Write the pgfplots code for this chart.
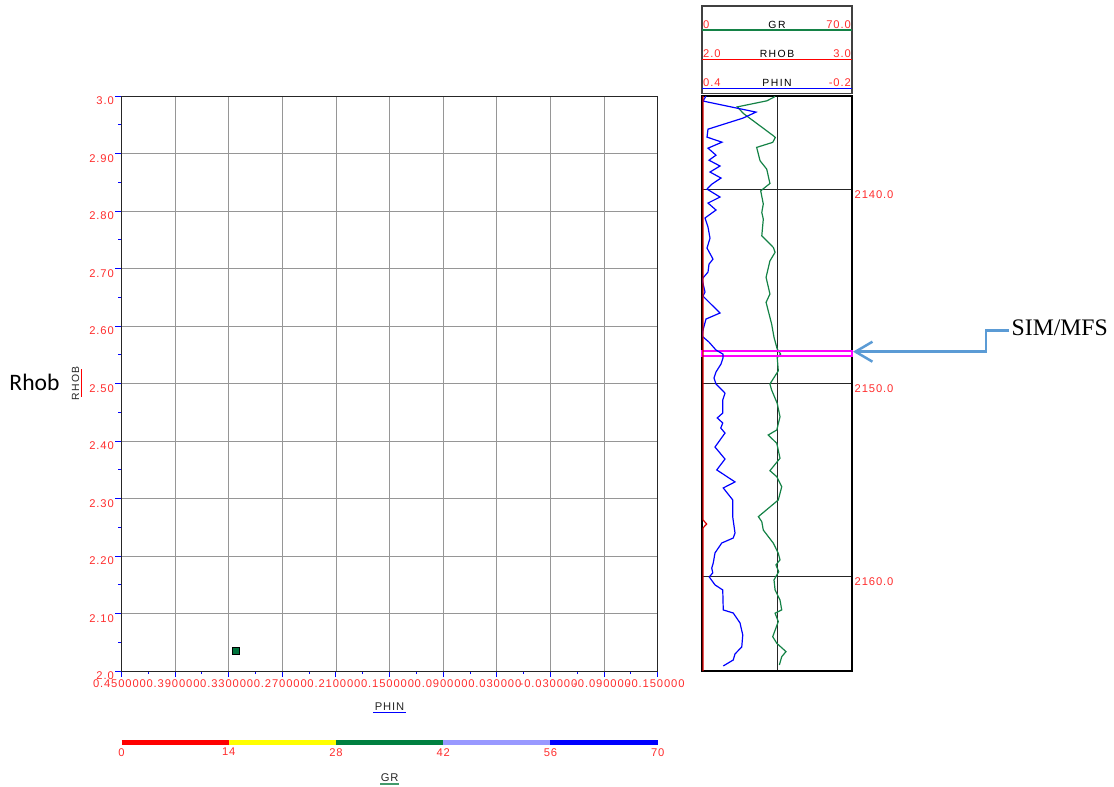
\documentclass[border=0pt]{standalone}
\usepackage{pgfplots}
\pgfplotsset{compat=1.18}
\usepackage{pgfplotstable}
\usetikzlibrary{arrows.meta}
\usepackage{fontspec}
\setmainfont{Liberation Sans}
\newfontfamily\lbl[LetterSpace=8]{Liberation Sans}
\newfontfamily\hdr[LetterSpace=14]{Liberation Sans}
\newfontfamily\tms{Liberation Serif}
\newfontfamily\carlitofont{Carlito}
\newcommand\lblfont{\lbl\fontsize{11.2bp}{13bp}\selectfont}
\newcommand\hdrfont{\hdr\fontsize{10.4bp}{12bp}\selectfont}
\definecolor{labelred}{RGB}{255,45,45}
\definecolor{gridgray}{RGB}{150,150,150}
\definecolor{grgreen}{RGB}{20,130,70}
\definecolor{ptgreen}{RGB}{0,115,60}
\definecolor{cbred}{RGB}{255,0,0}
\definecolor{cbyellow}{RGB}{255,255,0}
\definecolor{cbgreen}{RGB}{0,128,64}
\definecolor{cblav}{RGB}{153,153,255}
\definecolor{cbblue}{RGB}{0,0,255}
\definecolor{arrowblue}{RGB}{91,155,213}
\definecolor{mag}{RGB}{255,0,255}

\pgfplotstableread{
depth gr
2135.20 34.0
2135.26 33.6
2135.45 30.2
2135.76 16.5
2136.10 19.3
2136.74 27.1
2137.25 33.3
2137.34 34.2
2137.59 33.0
2137.85 25.5
2138.54 27.1
2138.97 30.2
2139.71 31.7
2140.09 27.4
2140.77 28.6
2141.20 27.9
2141.55 28.6
2142.41 27.9
2143.01 33.3
2143.26 34.1
2143.70 31.7
2144.55 29.9
2145.41 31.7
2145.84 29.9
2146.96 32.5
2147.64 33.6
2148.25 35.1
2148.51 36.7
2148.68 35.1
2149.37 35.6
2150.05 31.7
2150.36 32.5
2151.05 35.1
2151.74 36.4
2152.42 34.9
2152.68 30.9
2153.11 34.9
2153.88 36.4
2154.52 31.7
2154.83 34.9
2155.35 37.2
2156.03 35.6
2156.89 26.3
2157.15 27.9
2157.58 28.6
2158.26 33.3
2158.78 35.6
2159.12 36.4
2159.38 34.5
2159.73 35.8
2160.15 33.6
2160.67 34.1
2161.19 36.4
2161.70 37.2
2161.87 34.1
2162.30 35.6
2163.08 33.0
2163.42 34.9
2163.85 39.2
2164.11 37.2
2164.54 36.1
}\grdata

\pgfplotstableread{
depth phin
2135.20 0.384
2135.46 0.396
2136.03 0.184
2136.34 0.236
2136.91 0.376
2137.32 0.380
2137.58 0.320
2137.89 0.376
2138.25 0.344
2138.51 0.372
2138.81 0.328
2139.12 0.368
2139.43 0.324
2139.74 0.360
2140.00 0.380
2140.41 0.328
2140.72 0.376
2141.08 0.344
2141.49 0.388
2141.96 0.376
2142.53 0.368
2143.04 0.380
2143.61 0.356
2143.87 0.372
2144.28 0.376
2144.64 0.400
2145.31 0.388
2145.52 0.396
2145.88 0.368
2146.39 0.328
2146.70 0.384
2147.27 0.396
2147.58 0.400
2147.89 0.372
2148.30 0.344
2148.51 0.316
2148.71 0.316
2149.02 0.324
2149.43 0.344
2149.74 0.352
2150.05 0.344
2150.26 0.328
2150.52 0.308
2150.88 0.317
2151.55 0.317
2151.80 0.339
2152.06 0.317
2152.32 0.325
2152.58 0.308
2153.30 0.348
2153.92 0.308
2154.48 0.341
2155.10 0.268
2155.41 0.315
2156.03 0.277
2156.91 0.277
2157.73 0.268
2157.99 0.275
2158.25 0.321
2158.76 0.348
2159.28 0.355
2159.54 0.361
2159.79 0.357
2160.00 0.371
2160.41 0.348
2160.67 0.317
2161.70 0.315
2161.86 0.275
2162.37 0.248
2162.99 0.237
2163.61 0.241
2163.97 0.268
2164.28 0.275
2164.59 0.315
}\phindata

\pgfplotstableread{
depth rhob
2135.20 2.007
2157.06 2.007
2157.27 2.031
2157.47 2.007
2164.85 2.007
}\rhobdata

\begin{document}
\begin{tikzpicture}
\useasboundingbox (0,0) rectangle (1114bp,-787bp);

% ---------------- crossplot ----------------
\begin{axis}[
  at={(121.5bp,-671bp)}, anchor=south west, scale only axis,
  width=536.2bp, height=575bp,
  xmin=-0.15, xmax=0.45, x dir=reverse,
  ymin=2, ymax=3,
  xtick={0.45,0.39,0.33,0.27,0.21,0.15,0.09,0.03,-0.03,-0.09,-0.15},
  xticklabels={0.450000,0.390000,0.330000,0.270000,0.210000,0.150000,0.090000,0.030000,-0.030000,-0.090000,-0.150000},
  minor xtick={0.42,0.36,0.30,0.24,0.18,0.12,0.06,0,-0.06,-0.12},
  ytick={2,2.1,2.2,2.3,2.4,2.5,2.6,2.7,2.8,2.9,3},
  yticklabels={2.0,2.10,2.20,2.30,2.40,2.50,2.60,2.70,2.80,2.90,3.0},
  minor ytick={2.05,2.15,2.25,2.35,2.45,2.55,2.65,2.75,2.85,2.95},
  xtick pos=bottom, ytick pos=left,
  tick align=outside,
  major tick length=6bp, minor tick length=3bp,
  tick style={draw=blue, line width=1bp},
  xmajorgrids, ymajorgrids,
  major grid style={draw=gridgray, line width=0.9bp},
  axis line style={draw=black!85, line width=1bp},
  axis on top,
  tick label style={font=\lblfont, text=labelred},
  xticklabel style={inner sep=0pt, yshift=-2.5bp, xshift=-2bp},
  yticklabel style={anchor=north east, inner sep=0pt, xshift=-1.5bp, yshift=-0.8bp},
]
\addplot[only marks, mark=square*, mark size=3.7bp, mark options={fill=ptgreen, draw=black, line width=0.8bp}]
  coordinates {(0.3219,2.0348)};
\end{axis}

% ---------------- colour bar ----------------
\begin{axis}[
  at={(121.5bp,-745bp)}, anchor=south west, scale only axis,
  width=536.2bp, height=5bp,
  xmin=0, xmax=70, ymin=0, ymax=1,
  hide y axis, axis line style={draw=none},
  xtick={0,14,28,42,56,70}, xticklabels={0,14,28,42,56,70},
  xtick pos=bottom, major tick length=0pt,
  tick label style={font=\lblfont, text=labelred},
  xticklabel style={inner sep=0pt, yshift=-3bp},
  clip=false,
]
\addplot[cbred, line width=5bp] coordinates {(0,0.5) (14,0.5)};
\addplot[cbyellow, line width=5bp] coordinates {(14,0.5) (28,0.5)};
\addplot[cbgreen, line width=5bp] coordinates {(28,0.5) (42,0.5)};
\addplot[cblav, line width=5bp] coordinates {(42,0.5) (56,0.5)};
\addplot[cbblue, line width=5bp] coordinates {(56,0.5) (70,0.5)};
\end{axis}

% ---------------- log track: GR ----------------
\begin{axis}[
  at={(702bp,-671bp)}, anchor=south west, scale only axis,
  width=150bp, height=575bp,
  xmin=0, xmax=70, ymin=2135.2, ymax=2164.85, y dir=reverse,
  xtick={35}, xticklabels={},
  ytick={2140,2150,2160}, yticklabels={2140.0,2150.0,2160.0},
  xmajorgrids, ymajorgrids,
  major grid style={draw=black!85, line width=1bp},
  major tick length=0pt,
  ytick pos=right, yticklabel pos=right,
  yticklabel style={anchor=north west, inner sep=0pt, xshift=2.5bp, yshift=-1bp, font=\lblfont, text=labelred},
  axis line style={draw=black, line width=1.4bp},
  clip mode=individual,
]
\addplot[grgreen, line width=1.2bp] table[x=gr, y=depth] {\grdata};
\draw[mag, line width=1.3bp] (axis cs:0,2148.35) rectangle (axis cs:70,2148.61);
\end{axis}

% ---------------- log track: PHIN ----------------
\begin{axis}[
  at={(702bp,-671bp)}, anchor=south west, scale only axis,
  width=150bp, height=575bp,
  xmin=-0.2, xmax=0.4, x dir=reverse,
  ymin=2135.2, ymax=2164.85, y dir=reverse,
  hide axis,
]
\addplot[blue, line width=1.2bp] table[x=phin, y=depth] {\phindata};
\end{axis}

% ---------------- log track: RHOB ----------------
\begin{axis}[
  at={(702bp,-671bp)}, anchor=south west, scale only axis,
  width=150bp, height=575bp,
  xmin=2, xmax=3,
  ymin=2135.2, ymax=2164.85, y dir=reverse,
  hide axis,
]
\addplot[red!85!black, line width=1.2bp] table[x=rhob, y=depth] {\rhobdata};
\end{axis}

% ---------------- annotations ----------------
\begin{scope}[x=1bp, y=-1bp]
  % header of the log track
  \draw[black!75, line width=1.5bp] (702,6) rectangle (852,93.5);
  \draw[grgreen, line width=1.5bp] (702,30) -- (852,30);
  \draw[cbred, line width=1.5bp] (702,59.3) -- (852,59.3);
  \draw[cbblue, line width=1.5bp] (702,88.3) -- (852,88.3);
  \node[anchor=base west, inner sep=0pt, font=\lblfont, text=labelred] at (703,28.3) {0};
  \node[anchor=base, inner sep=0pt, font=\hdrfont] at (777,28.3) {GR};
  \node[anchor=base east, inner sep=0pt, font=\lblfont, text=labelred] at (851,28.3) {70.0};
  \node[anchor=base west, inner sep=0pt, font=\lblfont, text=labelred] at (703,57.3) {2.0};
  \node[anchor=base, inner sep=0pt, font=\hdrfont] at (777,57.3) {RHOB};
  \node[anchor=base east, inner sep=0pt, font=\lblfont, text=labelred] at (851,57.3) {3.0};
  \node[anchor=base west, inner sep=0pt, font=\lblfont, text=labelred] at (703,86.5) {0.4};
  \node[anchor=base, inner sep=0pt, font=\hdrfont] at (777,86.5) {PHIN};
  \node[anchor=base east, inner sep=0pt, font=\lblfont, text=labelred] at (851,86.5) {-0.2};

  % axis labels of the crossplot
  \node[anchor=base, inner sep=0pt, font=\lblfont, text=black!85] at (389.6,710) {PHIN};
  \draw[blue, line width=1.3bp] (373,712.5) -- (406,712.5);
  \node[rotate=90, inner sep=0pt, font=\hdrfont, text=black!85] at (75.5,383.5) {RHOB};
  \draw[red, line width=1.3bp] (81.7,369) -- (81.7,397);
  \node[anchor=base west, inner sep=0pt, font=\carlitofont\fontsize{23.6bp}{26bp}\selectfont] at (9.3,390.5) {Rhob};

  % colour bar label
  \node[anchor=base, inner sep=0pt, font=\lblfont, text=black!85] at (389.6,781) {GR};
  \draw[grgreen!80, line width=1.3bp] (380,784) -- (399,784);

  % SIM/MFS arrow
  \draw[arrowblue, line width=2.5bp, -{Straight Barb[length=17bp, width=20bp]}]
     (1009,330.7) -- (986,330.7) -- (986,351.7) -- (853,351.7);
  \node[anchor=base west, inner sep=0pt, font=\tms\fontsize{23.7bp}{26bp}\selectfont] at (1011.5,335) {SIM/MFS};
\end{scope}
\end{tikzpicture}
\end{document}
